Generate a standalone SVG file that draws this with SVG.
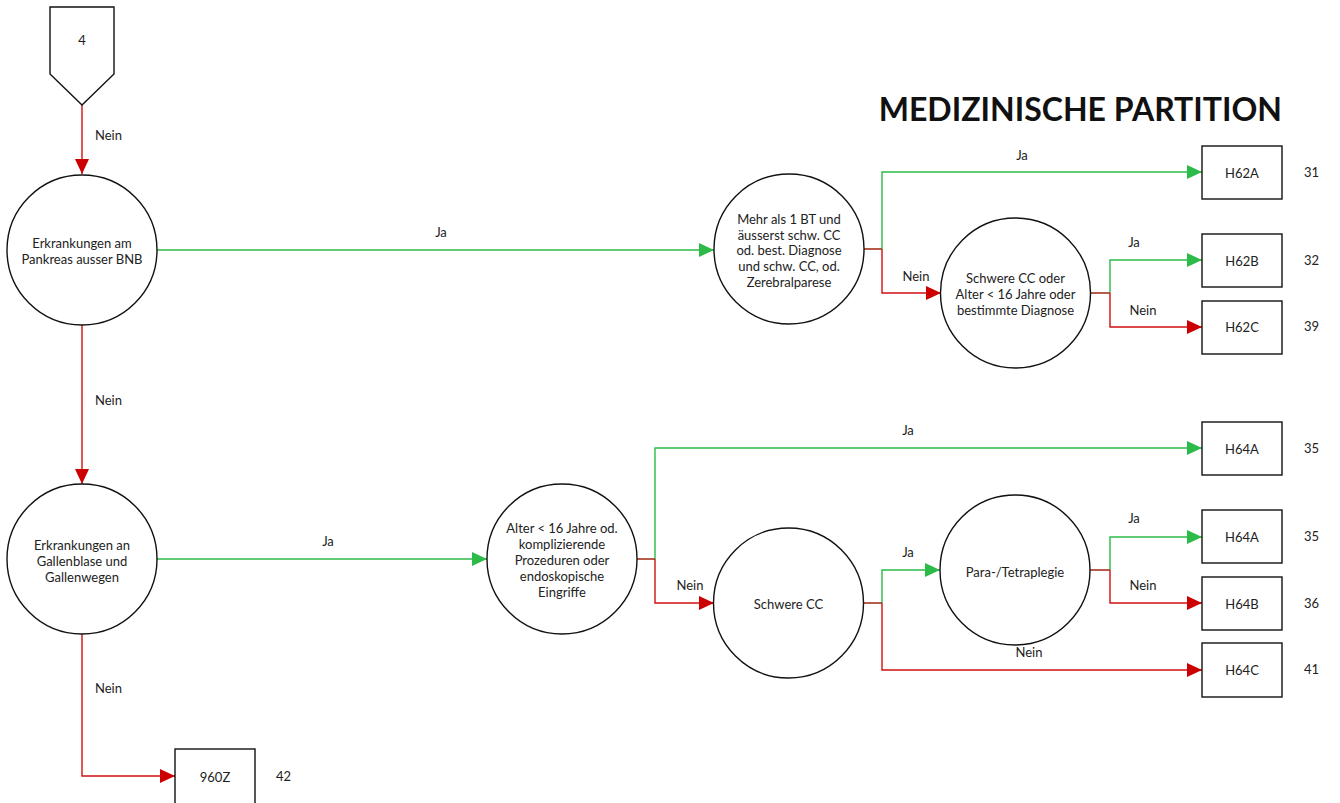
<svg xmlns="http://www.w3.org/2000/svg" width="1340" height="803" viewBox="0 0 1340 803">
<defs>
<style>
.t{font-family:Lato,"Open Sans","Liberation Sans",sans-serif;font-size:13px;fill:#222;text-anchor:middle;dominant-baseline:central}
.l{font-family:Lato,"Open Sans","Liberation Sans",sans-serif;font-size:13px;fill:#222;text-anchor:start;dominant-baseline:central}
.n{fill:#fff;stroke:#111;stroke-width:1.4}
.g{fill:none;stroke:#2cba48;stroke-width:1.4}
.r{fill:none;stroke:#d01010;stroke-width:1.4}
.b{fill:none;stroke:#a3331c;stroke-width:1.6}
</style>
<marker id="ag" markerUnits="userSpaceOnUse" markerWidth="16" markerHeight="16" refX="15" refY="8" orient="auto"><path d="M0,1 L15,8 L0,15 Z" fill="#2cba48"/></marker>
<marker id="ar" markerUnits="userSpaceOnUse" markerWidth="16" markerHeight="16" refX="15" refY="8" orient="auto"><path d="M0,1 L15,8 L0,15 Z" fill="#cc0000"/></marker>
</defs>
<rect width="1340" height="803" fill="#fff"/>
<text x="1282" y="108" style="font-family:Lato,'Open Sans','Liberation Sans',sans-serif;font-size:32px;font-weight:bold;fill:#111;text-anchor:end;dominant-baseline:central">MEDIZINISCHE PARTITION</text>

<g id="connectors">
<path class="r" d="M82,105 V174" marker-end="url(#ar)"/>
<path class="g" d="M157,250 H714" marker-end="url(#ag)"/>
<path class="r" d="M82,325 V484" marker-end="url(#ar)"/>
<path class="g" d="M157,559 H487" marker-end="url(#ag)"/>
<path class="r" d="M82,633 V776 H175" marker-end="url(#ar)"/>
<path class="g" d="M882,249 V172 H1202" marker-end="url(#ag)"/>
<path class="r" d="M882,249 V293 H941" marker-end="url(#ar)"/>
<path class="b" d="M864,249 H882"/>
<path class="g" d="M1110,293 V260 H1202" marker-end="url(#ag)"/>
<path class="r" d="M1110,293 V327 H1202" marker-end="url(#ar)"/>
<path class="b" d="M1090,293 H1110"/>
<path class="g" d="M655,559 V448 H1202" marker-end="url(#ag)"/>
<path class="r" d="M655,559 V603 H714" marker-end="url(#ar)"/>
<path class="b" d="M637,559 H655"/>
<path class="g" d="M882,603 V570 H940" marker-end="url(#ag)"/>
<path class="r" d="M882,603 V670 H1202" marker-end="url(#ar)"/>
<path class="b" d="M863,603 H882"/>
<path class="g" d="M1110,570 V537 H1202" marker-end="url(#ag)"/>
<path class="r" d="M1110,570 V603 H1202" marker-end="url(#ar)"/>
<path class="b" d="M1090,570 H1110"/>
<text class="l" x="95" y="135">Nein</text>
<text class="t" x="441" y="232">Ja</text>
<text class="l" x="95" y="400">Nein</text>
<text class="t" x="328" y="541">Ja</text>
<text class="l" x="95" y="688">Nein</text>
<text class="t" x="1022" y="155">Ja</text>
<text class="t" x="916" y="276">Nein</text>
<text class="t" x="1134" y="242">Ja</text>
<text class="t" x="1143" y="310">Nein</text>
<text class="t" x="908" y="430">Ja</text>
<text class="t" x="690" y="585">Nein</text>
<text class="t" x="908" y="552">Ja</text>
<text class="t" x="1029" y="652">Nein</text>
<text class="t" x="1134" y="518">Ja</text>
<text class="t" x="1143" y="585">Nein</text>
</g>

<g id="start">
<path class="n" d="M50,7 H114 V74 L82,105 L50,74 Z"/>
<text class="t" x="82" y="40">4</text>
</g>
<g id="c1">
<circle class="n" cx="82" cy="250" r="75"/>
<text class="t" x="82" y="243">Erkrankungen am</text>
<text class="t" x="82" y="259">Pankreas ausser BNB</text>
</g>
<g id="c2">
<circle class="n" cx="789" cy="249" r="75"/>
<text class="t" x="789" y="219">Mehr als 1 BT und</text>
<text class="t" x="789" y="235">äusserst schw. CC</text>
<text class="t" x="789" y="250">od. best. Diagnose</text>
<text class="t" x="789" y="266">und schw. CC, od.</text>
<text class="t" x="789" y="282">Zerebralparese</text>
</g>
<g id="c3">
<circle class="n" cx="1015.5" cy="293" r="75"/>
<text class="t" x="1015.5" y="278">Schwere CC oder</text>
<text class="t" x="1015.5" y="294">Alter &lt; 16 Jahre oder</text>
<text class="t" x="1015.5" y="310">bestimmte Diagnose</text>
</g>
<g id="c4">
<circle class="n" cx="82" cy="559" r="75"/>
<text class="t" x="82" y="545">Erkrankungen an</text>
<text class="t" x="82" y="561">Gallenblase und</text>
<text class="t" x="82" y="577">Gallenwegen</text>
</g>
<g id="c5">
<circle class="n" cx="562" cy="559" r="75"/>
<text class="t" x="562" y="528">Alter &lt; 16 Jahre od.</text>
<text class="t" x="562" y="544">komplizierende</text>
<text class="t" x="562" y="560">Prozeduren oder</text>
<text class="t" x="562" y="576">endoskopische</text>
<text class="t" x="562" y="592">Eingriffe</text>
</g>
<g id="c6">
<circle class="n" cx="788.5" cy="603" r="75"/>
<text class="t" x="788.5" y="604">Schwere CC</text>
</g>
<g id="c7">
<circle class="n" cx="1015" cy="570" r="75"/>
<text class="t" x="1015" y="572">Para-/Tetraplegie</text>
</g>

<g id="H62A"><rect class="n" x="1202" y="146" width="80" height="53"/><text class="t" x="1242" y="173">H62A</text><text class="l" x="1304" y="172">31</text></g>
<g id="H62B"><rect class="n" x="1202" y="234" width="80" height="53"/><text class="t" x="1242" y="261">H62B</text><text class="l" x="1304" y="260">32</text></g>
<g id="H62C"><rect class="n" x="1202" y="301" width="80" height="53"/><text class="t" x="1242" y="327">H62C</text><text class="l" x="1304" y="326">39</text></g>
<g id="H64A1"><rect class="n" x="1202" y="422" width="80" height="53"/><text class="t" x="1242" y="449">H64A</text><text class="l" x="1304" y="448">35</text></g>
<g id="H64A2"><rect class="n" x="1202" y="510" width="80" height="53"/><text class="t" x="1242" y="537">H64A</text><text class="l" x="1304" y="536">35</text></g>
<g id="H64B"><rect class="n" x="1202" y="577" width="80" height="53"/><text class="t" x="1242" y="604">H64B</text><text class="l" x="1304" y="603">36</text></g>
<g id="H64C"><rect class="n" x="1202" y="643" width="80" height="54"/><text class="t" x="1242" y="670">H64C</text><text class="l" x="1304" y="669">41</text></g>
<g id="n960Z"><rect class="n" x="175" y="749" width="80" height="60"/><text class="t" x="215" y="777">960Z</text><text class="l" x="276" y="776">42</text></g>
</svg>
